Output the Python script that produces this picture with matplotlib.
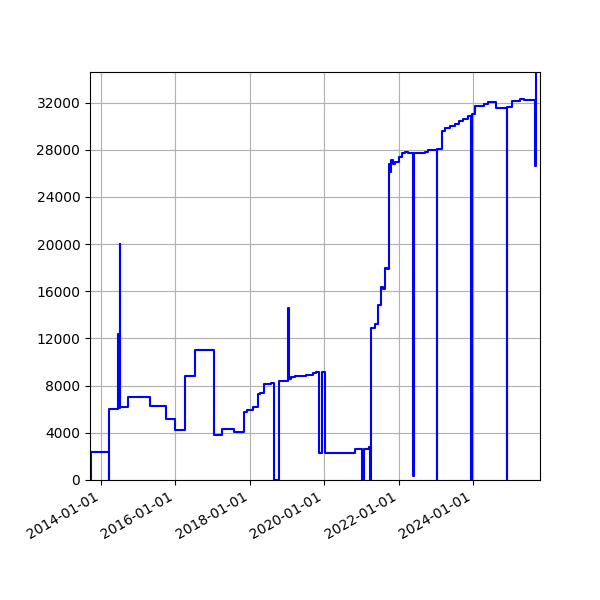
import matplotlib
matplotlib.use('Agg')
import matplotlib.pyplot as plt
import matplotlib.dates as mdates
from matplotlib.ticker import MultipleLocator
import pandas as pd

# change points of the series (value holds until the next date)
dates = [
    '2013-09-20', '2013-09-22', '2014-03-19', '2014-03-21', '2014-06-16',
    '2014-06-22', '2014-06-26', '2014-06-29', '2014-07-04', '2014-07-10',
    '2014-09-27', '2015-04-24', '2015-09-28', '2015-12-25', '2016-04-02',
    '2016-07-09', '2017-01-11', '2017-04-07', '2017-07-27', '2017-11-05',
    '2017-12-01', '2018-01-29', '2018-03-24', '2018-04-08', '2018-05-17',
    '2018-07-30', '2018-08-26', '2018-10-11', '2019-01-11', '2019-01-18',
    '2019-02-13', '2019-03-18', '2019-07-04', '2019-09-13', '2019-10-10',
    '2019-11-13', '2019-12-12', '2020-01-11', '2020-10-26', '2021-01-10',
    '2021-01-23', '2021-03-16', '2021-03-26', '2021-04-09', '2021-05-18',
    '2021-06-12', '2021-07-16', '2021-07-31', '2021-08-17', '2021-09-09',
    '2021-09-25', '2021-10-05', '2021-10-15', '2021-11-07', '2021-11-30',
    '2022-01-04', '2022-02-03', '2022-03-01', '2022-03-31', '2022-05-22',
    '2022-05-27', '2022-09-14', '2022-10-16', '2023-01-12', '2023-01-17',
    '2023-03-03', '2023-03-29', '2023-05-17', '2023-07-05', '2023-08-13',
    '2023-09-25', '2023-11-13', '2023-12-16', '2023-12-21', '2024-01-18',
    '2024-04-15', '2024-05-27', '2024-08-18', '2024-11-27', '2024-12-02',
    '2025-01-22', '2025-04-03', '2025-05-13', '2025-07-11', '2025-08-29',
    '2025-09-14', '2025-10-20',
]
values = [
    0, 2400, 0, 6050, 12400,
    6100, 12400, 6100, 20000, 6200,
    7000, 6250, 5200, 4200, 8850,
    11000, 3800, 4350, 4100, 5800,
    5950, 6200, 7270, 7400, 8100,
    8250, 0, 8400, 14600, 8550,
    8720, 8830, 8910, 9050, 9190,
    2320, 9190, 2320, 2600, 0,
    2600, 2830, 0, 12900, 13200,
    14870, 16370, 16230, 18000, 17930,
    26840, 26130, 27120, 26780, 26980,
    27400, 27740, 27850, 27750, 300,
    27730, 27840, 27950, 0, 28100,
    29570, 29850, 30050, 30190, 30420,
    30620, 30840, 0, 31070, 31690,
    31890, 32060, 31550, 0, 31640,
    32110, 32340, 32200, 32260, 26600,
    34600, 34600,
]

df = pd.DataFrame({'date': pd.to_datetime(dates), 'value': values})

fig, ax = plt.subplots(figsize=(6, 6), dpi=100)
ax.plot(df['date'], df['value'], color='blue', linewidth=1.5, drawstyle='steps-post')

ax.set_xlim(pd.Timestamp('2013-09-14'), pd.Timestamp('2025-10-20'))
ax.set_ylim(0, 34600)
ax.yaxis.set_major_locator(MultipleLocator(4000))
ax.xaxis.set_major_locator(mdates.YearLocator(2))
ax.xaxis.set_major_formatter(mdates.DateFormatter('%Y-%m-%d'))
ax.grid(True)

fig.autofmt_xdate()
fig.subplots_adjust(left=0.15, right=0.9, top=0.88, bottom=0.2)
plt.savefig('out.png')
